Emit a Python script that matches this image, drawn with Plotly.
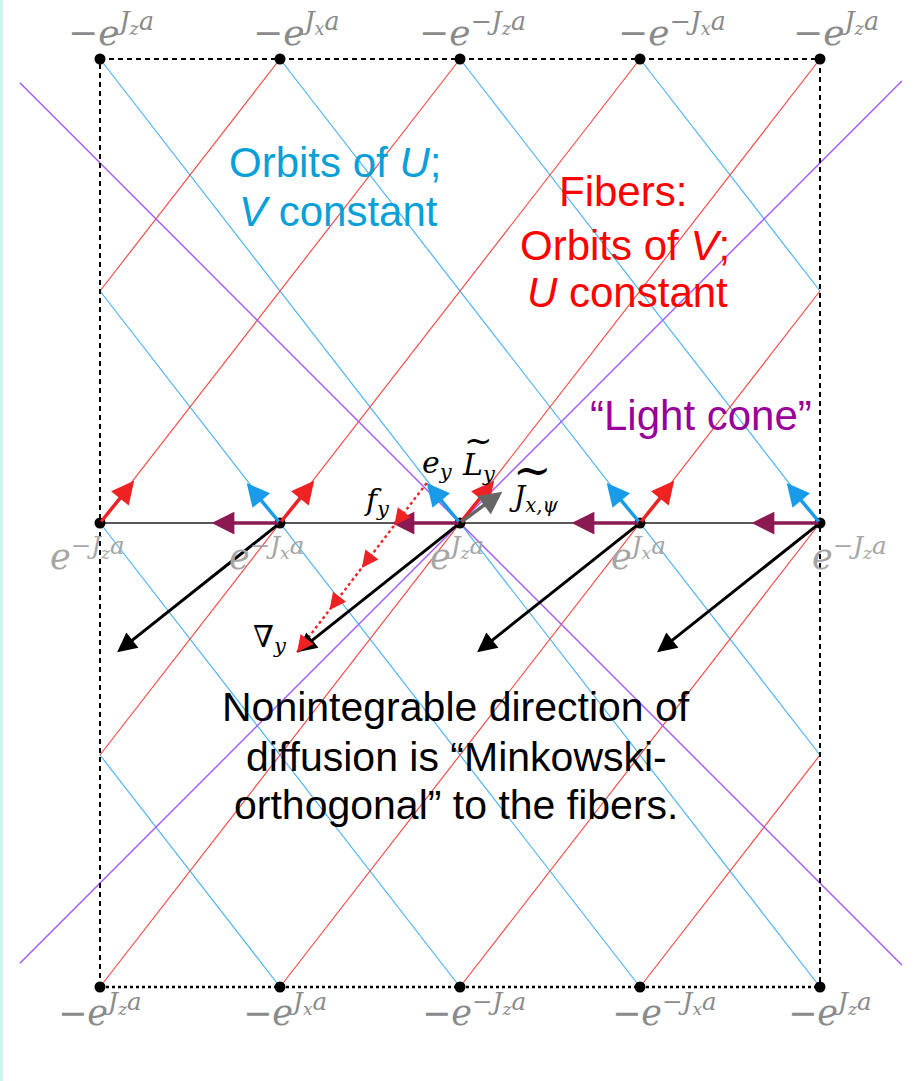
import plotly.graph_objects as go

# ---------------- data (lattice units: columns 0..4, rows +2 top / 0 middle / -2 bottom)
NODE_X = [0, 1, 2, 3, 4]
ROW_TOP, ROW_MID, ROW_BOT = 2, 0, -2
ORBIT_OFFSETS = [-1, 0, 1, 2, 3, 4, 5]      # where each orbit crosses the middle row
BOX_X = [0, 4]
BOX_Y = [-2, 2]
CONE_CENTER = (2, 0)
CONE_X = [-0.445, 4.455]
CONE_SLOPE = 0.776

RED_ARROW_NODES = [0, 1, 2, 3]
RED_ARROW_VEC = (0.19, 0.182)
BLUE_ARROW_NODES = [1, 2, 3, 4]
BLUE_ARROW_VEC = (-0.185, 0.172)
FIBER_ARROW_NODES = [1, 2, 3, 4]
FIBER_ARROW_VEC = (-0.38, 0.0)
GRAD_ARROW_NODES = [1, 2, 3, 4]
GRAD_ARROW_VEC = (-0.905, -0.557)
J_ARROW_NODE = 2
J_ARROW_VEC = (0.235, 0.135)
DOTTED_HEAD_FRACTIONS = [0.25, 0.5, 0.75, 1.0]

TOP_NEG_EXP = [False, False, True, True, False]
TOP_SUB = ["z", "x", "z", "x", "z"]
MID_NEG_EXP = [True, True, False, False, True]
MID_SUB = ["z", "x", "z", "x", "z"]
BOT_NEG_EXP = [False, False, True, True, False]
BOT_SUB = ["z", "x", "z", "x", "z"]

# label centres (pixels)
TOP_LABEL_PX = [111, 296, 472, 672, 836]
MID_LABEL_PX = [87, 266, 457, 638, 849]
BOT_LABEL_PX = [100, 285, 474, 664, 830]

W, H = 918, 1081
X0PX, XUNIT = 100, 180.0
Y0PX, YUNIT = 523, 232.0

RED = "#f0504a"
BLUE = "#4fb4f2"
PURPLE = "#a657f5"

fig = go.Figure()

# orbit lines clipped to the box
rx, ry, bx, by = [], [], [], []
for c in ORBIT_OFFSETS:
    xa, xb = max(BOX_X[0], c - 2), min(BOX_X[1], c + 2)
    if xb <= xa:
        continue
    rx += [xa, xb, None]
    ry += [xa - c, xb - c, None]
    bx += [xa, xb, None]
    by += [c - xa, c - xb, None]
fig.add_trace(go.Scatter(x=bx, y=by, mode="lines", line=dict(color=BLUE, width=1.2), hoverinfo="skip"))
fig.add_trace(go.Scatter(x=rx, y=ry, mode="lines", line=dict(color=RED, width=1.2), hoverinfo="skip"))

# light cone
cx, cy = CONE_CENTER
lx = [CONE_X[0], CONE_X[1], None, CONE_X[0], CONE_X[1]]
ly = [cy + CONE_SLOPE * (CONE_X[0] - cx), cy + CONE_SLOPE * (CONE_X[1] - cx), None,
      cy - CONE_SLOPE * (CONE_X[0] - cx), cy - CONE_SLOPE * (CONE_X[1] - cx)]
fig.add_trace(go.Scatter(x=lx, y=ly, mode="lines", line=dict(color=PURPLE, width=1.4), hoverinfo="skip"))

# box
fig.add_trace(go.Scatter(x=[BOX_X[0], BOX_X[0], None, BOX_X[0], BOX_X[1], None, BOX_X[1], BOX_X[1]],
                         y=[BOX_Y[0], BOX_Y[1], None, BOX_Y[1], BOX_Y[1], None, BOX_Y[1], BOX_Y[0]],
                         mode="lines", line=dict(color="black", width=2, dash="5px,4px"), hoverinfo="skip"))
fig.add_trace(go.Scatter(x=[BOX_X[0], BOX_X[1]], y=[BOX_Y[0], BOX_Y[0]], mode="lines",
                         line=dict(color="black", width=2.5, dash="3px,3px"), hoverinfo="skip"))
# middle row
fig.add_trace(go.Scatter(x=[BOX_X[0], BOX_X[1]], y=[ROW_MID, ROW_MID], mode="lines",
                         line=dict(color="#222", width=1.6), hoverinfo="skip"))

# red dotted vector (from e_y tip to grad tip)
sx, sy = NODE_X[J_ARROW_NODE] + BLUE_ARROW_VEC[0], ROW_MID + BLUE_ARROW_VEC[1]
ex, ey = NODE_X[J_ARROW_NODE] + GRAD_ARROW_VEC[0], ROW_MID + GRAD_ARROW_VEC[1]
fig.add_trace(go.Scatter(x=[sx, ex], y=[sy, ey], mode="lines",
                         line=dict(color="#ee2222", width=2.4, dash="3px,3px"), hoverinfo="skip"))

# nodes
nx, ny = [], []
for r in (ROW_TOP, ROW_MID, ROW_BOT):
    for x in NODE_X:
        nx.append(x)
        ny.append(r)
fig.add_trace(go.Scatter(x=nx, y=ny, mode="markers", marker=dict(color="black", size=11), hoverinfo="skip"))

ann = []


def arrow(x0, y0, dx, dy, color, width, size):
    ann.append(dict(x=x0 + dx, y=y0 + dy, ax=x0, ay=y0, xref="x", yref="y", axref="x", ayref="y",
                    text="", showarrow=True, arrowhead=2, arrowsize=size, arrowwidth=width,
                    arrowcolor=color, standoff=0, startstandoff=0))


for i in GRAD_ARROW_NODES:
    arrow(NODE_X[i], ROW_MID, *GRAD_ARROW_VEC, "black", 3, 1.3)
for i in FIBER_ARROW_NODES:
    arrow(NODE_X[i], ROW_MID, *FIBER_ARROW_VEC, "#8c1a52", 3.5, 1.3)
for i in RED_ARROW_NODES:
    arrow(NODE_X[i], ROW_MID, *RED_ARROW_VEC, "#ee2222", 3.5, 1.3)
for i in BLUE_ARROW_NODES:
    arrow(NODE_X[i], ROW_MID, *BLUE_ARROW_VEC, "#1a9be8", 3.5, 1.3)
arrow(NODE_X[J_ARROW_NODE], ROW_MID, *J_ARROW_VEC, "#666666", 3.5, 1.3)
# heads along the dotted vector
for f in DOTTED_HEAD_FRACTIONS:
    hx, hy = sx + f * (ex - sx), sy + f * (ey - sy)
    tx, ty = sx + (f - 0.04) * (ex - sx), sy + (f - 0.04) * (ey - sy)
    arrow(tx, ty, hx - tx, hy - ty, "#ee2222", 2.2, 1.5)


def px(xp):
    return xp / W


def py(yp):
    return 1 - yp / H


def elabel(neg_outer, neg_exp, sub):
    s = "\u2212" if neg_outer else ""
    s += "<i>e</i><sup>" + ("\u2212" if neg_exp else "") + "<i>J</i><sub><i>" + sub + "</i></sub><i>a</i></sup>"
    return s


def text(xp, yp, s, size, color, family="Liberation Sans", xanchor="center"):
    ann.append(dict(x=px(xp), y=py(yp), xref="paper", yref="paper", text=s, showarrow=False,
                    xanchor=xanchor, yanchor="middle", font=dict(size=size, color=color, family=family)))


SERIF = "DejaVu Serif"
for i in range(5):
    text(TOP_LABEL_PX[i], 30, elabel(True, TOP_NEG_EXP[i], TOP_SUB[i]), 36, "#8a8a8a", SERIF)
    text(MID_LABEL_PX[i], 554, elabel(False, MID_NEG_EXP[i], MID_SUB[i]), 35, "#a5a5a5", SERIF)
    text(BOT_LABEL_PX[i], 1010, elabel(True, BOT_NEG_EXP[i], BOT_SUB[i]), 35, "#8a8a8a", SERIF)

# math labels
text(437, 465, "<i>e</i><sub><i>y</i></sub>", 30, "black", SERIF)
text(479, 466, "<i>L</i><sub><i>y</i></sub>", 30, "black", SERIF)
text(479, 440, "~", 34, "black", SERIF)
text(534, 498, "<i>J</i><sub><i>x,\u03c8</i></sub>", 28, "black", SERIF)
text(532, 470, "~", 46, "black", SERIF)
text(377, 502, "<i>f</i><sub><i>y</i></sub>", 30, "black", SERIF)
text(270, 638, "\u2207<sub><i>y</i></sub>", 30, "black", SERIF)

BLUE_T = "#0a9fd8"
text(335, 162, "Orbits of <i>U</i>;", 42, BLUE_T)
text(338, 212, "<i>V</i> constant", 42, BLUE_T)
text(623, 192, "Fibers:", 42, "#ff0000")
text(625, 245, "Orbits of <i>V</i>;", 42, "#ff0000")
text(627, 293, "<i>U</i> constant", 42, "#ff0000")
text(701, 415, "\u201cLight cone\u201d", 42, "#990099")
text(456, 707, "Nonintegrable direction of", 41, "black")
text(456, 757, "diffusion is \u201cMinkowski-", 41, "black")
text(456, 805, "orthogonal\u201d to the fibers.", 41, "black")

fig.update_layout(
    width=W, height=H, margin=dict(l=0, r=0, t=0, b=0),
    paper_bgcolor="white", plot_bgcolor="white", showlegend=False,
    xaxis=dict(range=[(0 - X0PX) / XUNIT, (W - X0PX) / XUNIT], visible=False, fixedrange=True),
    yaxis=dict(range=[(Y0PX - H) / YUNIT, Y0PX / YUNIT], visible=False, fixedrange=True),
    annotations=ann,
    shapes=[dict(type="rect", xref="paper", yref="paper", x0=0, x1=3 / W, y0=0, y1=1,
                 fillcolor="#c9f5ec", line=dict(width=0), layer="below")],
)

fig.write_html("out.html", config={"displayModeBar": False},
               post_script="document.body.style.margin='0';document.body.style.overflow='hidden';")
